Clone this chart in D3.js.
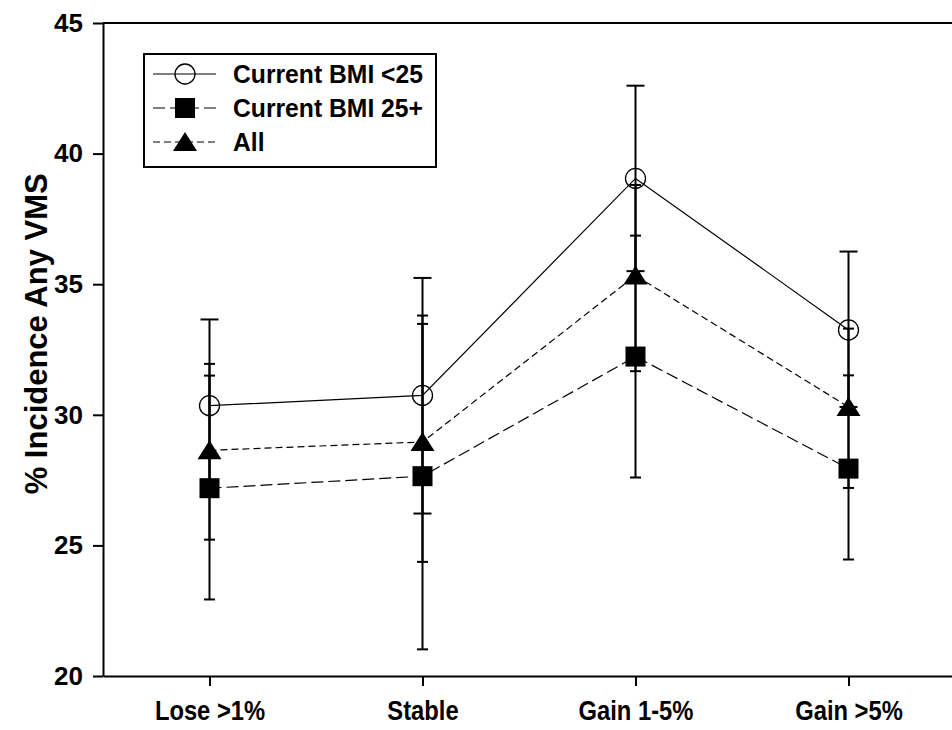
<!DOCTYPE html>
<html lang="en">
<head>
    <meta charset="UTF-8">
    <title>% Incidence Any VMS</title>
    <script src="https://d3js.org/d3.v7.min.js"></script>
    <style>
        body { margin: 0; background: #fff; }
        text { font-family: "Liberation Sans", Arial, sans-serif; font-weight: bold; fill: #000; }
    </style>
</head>
<body>
    <div id="chart"></div>
    <script>
        // Data
        const categories = ["Lose >1%", "Stable", "Gain 1-5%", "Gain >5%"];

        const bmiLowMean  = [30.35, 30.74, 39.05, 33.25];
        const bmiLowLower = [27.10, 26.22, 35.50, 30.30];
        const bmiLowUpper = [33.65, 35.24, 42.60, 36.25];

        const bmiHighMean  = [27.19, 27.65, 32.23, 27.94];
        const bmiHighLower = [22.93, 21.02, 27.60, 24.46];
        const bmiHighUpper = [31.50, 33.80, 36.86, 31.51];

        const allMean  = [28.64, 28.96, 35.33, 30.30];
        const allLower = [25.22, 24.37, 31.67, 27.20];
        const allUpper = [31.95, 33.48, 38.80, 33.30];

        const yTicks = [20, 25, 30, 35, 40, 45];

        const width = 952;
        const height = 730;
        const margin = { top: 23, right: -3, bottom: 54, left: 103 };

        const svg = d3.select("#chart")
            .append("svg")
            .attr("width", width)
            .attr("height", height);

        const x = d3.scaleLinear()
            .domain([0.5, 4.5])
            .range([margin.left, width - margin.right]);

        const y = d3.scaleLinear()
            .domain([20, 45])
            .range([height - margin.bottom, margin.top]);

        // Axes
        const yAxis = svg.append("g")
            .attr("transform", `translate(${margin.left},0)`)
            .call(d3.axisLeft(y).tickValues(yTicks).tickSize(10).tickSizeOuter(0).tickPadding(10));
        yAxis.selectAll("text").style("font-size", "26px");

        const xAxis = svg.append("g")
            .attr("transform", `translate(0,${height - margin.bottom})`)
            .call(d3.axisBottom(x).tickValues([1, 2, 3, 4])
                .tickFormat(d => categories[d - 1])
                .tickSize(10).tickSizeOuter(0).tickPadding(15));
        // the original labels are a little narrower than Arial bold
        xAxis.selectAll("text")
            .style("font-size", "27px")
            .attr("transform", "scale(0.88,1)");

        svg.selectAll(".domain, .tick line").attr("stroke", "#000").attr("stroke-width", 2);

        // top frame line
        svg.append("line")
            .attr("x1", margin.left).attr("x2", width)
            .attr("y1", y(45)).attr("y2", y(45))
            .attr("stroke", "#000").attr("stroke-width", 2);

        // Y axis title
        svg.append("text")
            .attr("transform", `translate(36,${y(33.1)}) rotate(-90)`)
            .attr("text-anchor", "middle")
            .attr("dominant-baseline", "central")
            .style("font-size", "31px")
            .text("% Incidence Any VMS");

        const series = [
            { name: "Current BMI <25", mean: bmiLowMean, lower: bmiLowLower, upper: bmiLowUpper, dash: null, marker: "circle", cap: 9 },
            { name: "Current BMI 25+", mean: bmiHighMean, lower: bmiHighLower, upper: bmiHighUpper, dash: "12,5", marker: "square", cap: 5.5 },
            { name: "All", mean: allMean, lower: allLower, upper: allUpper, dash: "7,4", marker: "triangle", cap: 5.5 }
        ];

        const line = d3.line()
            .x((d, i) => x(i + 1))
            .y(d => y(d));

        function drawMarker(g, type) {
            if (type === "circle") {
                g.append("circle").attr("r", 10)
                    .attr("fill", "none").attr("stroke", "#000").attr("stroke-width", 1.3);
            } else if (type === "square") {
                g.append("rect").attr("x", -10).attr("y", -10)
                    .attr("width", 20).attr("height", 20).attr("fill", "#000");
            } else {
                g.append("path").attr("d", "M0,-10L12,9L-12,9Z").attr("fill", "#000");
            }
        }

        // connecting lines
        series.forEach(s => {
            svg.append("path")
                .datum(s.mean)
                .attr("d", line)
                .attr("fill", "none")
                .attr("stroke", "#000")
                .attr("stroke-width", 1.2)
                .attr("stroke-dasharray", s.dash);
        });

        // error bars
        series.forEach(s => {
            const eb = svg.append("g");
            s.mean.forEach((m, i) => {
                const cx = x(i + 1);
                eb.append("line")
                    .attr("x1", cx).attr("x2", cx)
                    .attr("y1", y(s.lower[i])).attr("y2", y(s.upper[i]))
                    .attr("stroke", "#000").attr("stroke-width", 2);
                [s.lower[i], s.upper[i]].forEach(v => {
                    eb.append("line")
                        .attr("x1", cx - s.cap).attr("x2", cx + s.cap)
                        .attr("y1", y(v)).attr("y2", y(v))
                        .attr("stroke", "#000").attr("stroke-width", 2);
                });
            });
        });

        // markers
        series.forEach(s => {
            s.mean.forEach((m, i) => {
                const g = svg.append("g").attr("transform", `translate(${x(i + 1)},${y(m)})`);
                drawMarker(g, s.marker);
            });
        });

        // Legend
        const legend = svg.append("g");
        legend.append("rect")
            .attr("x", 144).attr("y", 54)
            .attr("width", 292).attr("height", 113)
            .attr("fill", "#fff").attr("stroke", "#000").attr("stroke-width", 2);

        const rowY = [74, 108, 142];
        series.forEach((s, i) => {
            const row = legend.append("g").attr("transform", `translate(0,${rowY[i]})`);
            row.append("line")
                .attr("x1", 153).attr("x2", 216)
                .attr("stroke", "#000").attr("stroke-width", 1.2)
                .attr("stroke-dasharray", s.dash);
            const mg = row.append("g").attr("transform", "translate(185,0)");
            drawMarker(mg, s.marker);
            row.append("text")
                .attr("transform", "translate(233,0) scale(0.95,1)")
                .attr("dominant-baseline", "central")
                .style("font-size", "26px")
                .text(s.name);
        });
    </script>
</body>
</html>
